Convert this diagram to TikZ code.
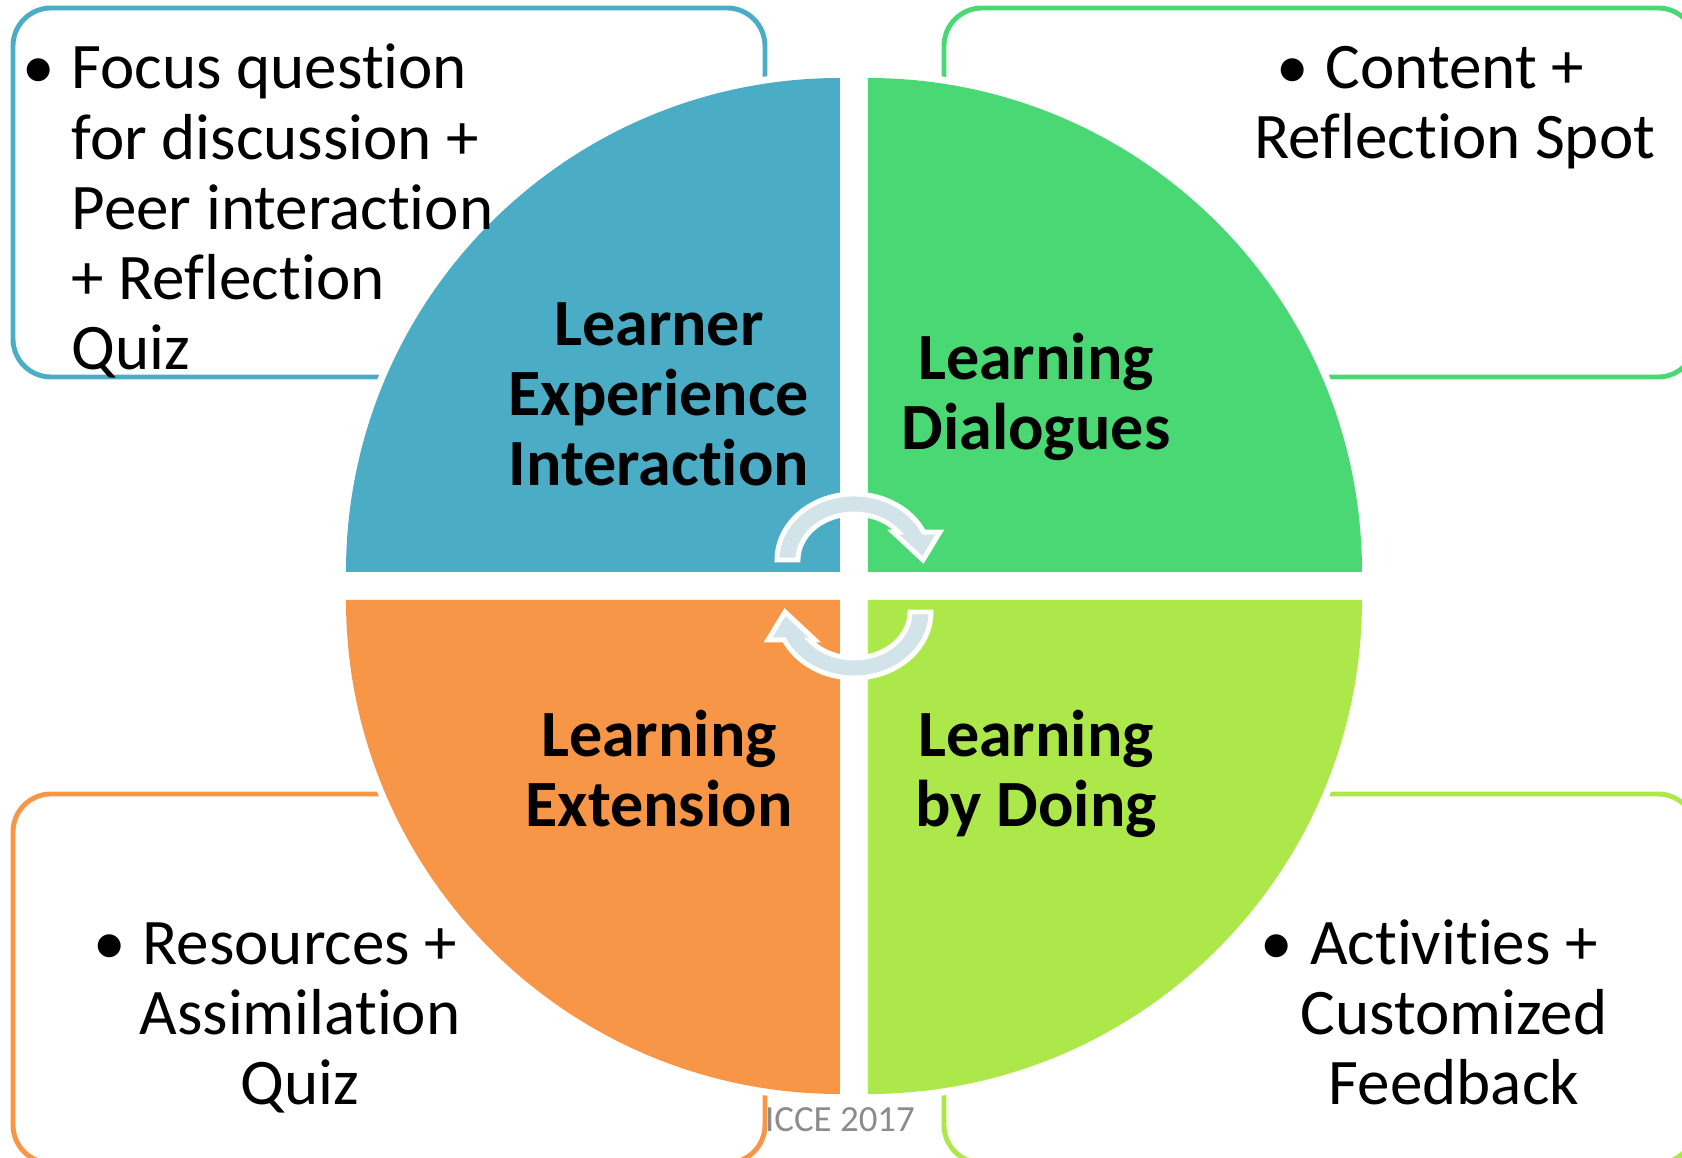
\documentclass[tikz,border=0pt]{standalone}
\usepackage{fontspec}
\setmainfont{Carlito}[Ligatures=NoCommon]
\definecolor{ExpBlue}{RGB}{75,172,198}
\definecolor{DialGreen}{RGB}{74,216,116}
\definecolor{ExtOrange}{RGB}{247,150,70}
\definecolor{DoLime}{RGB}{172,232,74}
\definecolor{CycleGrey}{RGB}{210,227,234}
\definecolor{FootGrey}{RGB}{140,140,140}

% curved arrow round the hub, #1 = rotation about the centre
\def\cyclearrow#1{
  \begin{scope}[rotate=#1]
  \filldraw[cycarrow] (-0.77,0.26) arc[start angle=180,end angle=25,x radius=0.77,y radius=0.66] -- (0.86,0.54) -- (0.69,0.26) -- (0.39,0.54) -- (0.444,0.54) arc[start angle=37.5,end angle=180,x radius=0.56,y radius=0.46] -- cycle;
  \end{scope}
}

\begin{document}
\begin{tikzpicture}[boxline/.style={line width=1.4pt,rounded corners=0.38cm}, quad/.style={preaction={draw=white,line width=1.4mm}}, quadtext/.style={anchor=base,align=center,inner sep=0pt,font=\bfseries\fontsize{18.8pt}{20pt}\selectfont}, boxtext/.style={anchor=base,align=center,inner sep=0pt,font=\fontsize{18.5pt}{20pt}\selectfont}, cycarrow/.style={fill=CycleGrey,draw=white,line width=1.4pt}]

\useasboundingbox (-8.54,-5.72) rectangle (8.28,5.86);

% outer boxes
\draw[boxline,ExpBlue] (-8.41,2.09) rectangle (-0.89,5.78);
\draw[boxline,DialGreen] (0.90,2.09) rectangle (8.42,5.78);
\draw[boxline,ExtOrange] (-8.41,-5.77) rectangle (-0.89,-2.08);
\draw[boxline,DoLime] (0.90,-5.77) rectangle (8.42,-2.08);

% the four quarters of the wheel
\fill[quad,ExpBlue] (-0.14,0.14) -- ++(-4.94,0) arc[start angle=180,end angle=90,radius=4.94] -- cycle;
\fill[quad,DialGreen] (0.14,0.14) -- ++(0,4.94) arc[start angle=90,end angle=0,radius=4.94] -- cycle;
\fill[quad,DoLime] (0.14,-0.14) -- ++(4.94,0) arc[start angle=0,end angle=-90,radius=4.94] -- cycle;
\fill[quad,ExtOrange] (-0.14,-0.14) -- ++(0,-4.94) arc[start angle=270,end angle=180,radius=4.94] -- cycle;

% quarter titles (base = last line)
\node[quadtext] (experience) at (-1.95,1.00) {Learner\\Experience\\Interaction};
\node[quadtext] (dialogues) at (1.82,1.36) {Learning\\Dialogues};
\node[quadtext] (extension) at (-1.95,-2.41) {Learning\\Extension};
\node[quadtext] (doing) at (1.82,-2.41) {Learning\\by Doing};

% box contents
\node[boxtext,anchor=base west,align=left] (focus) at (-7.83,2.16) {\llap{•\hspace{0.17cm}}Focus question\\for discussion +\\Peer interaction\\+ Reflection\\Quiz};
\node[boxtext] (content) at (6.01,4.27) {\llap{•\hspace{0.17cm}}Content +\\Reflection Spot};
\node[boxtext] (resources) at (-5.54,-5.19) {\llap{•\hspace{0.17cm}}Resources +\\Assimilation\\Quiz};
\node[boxtext] (activities) at (6.00,-5.19) {\llap{•\hspace{0.17cm}}Activities +\\Customized\\Feedback};

% arrows round the hub
\cyclearrow{0}
\cyclearrow{180}

\node[anchor=base,inner sep=0pt,text=FootGrey,font=\fontsize{10.5pt}{12pt}\selectfont] (icce) at (-0.14,-5.46) {ICCE 2017};

\end{tikzpicture}
\end{document}
